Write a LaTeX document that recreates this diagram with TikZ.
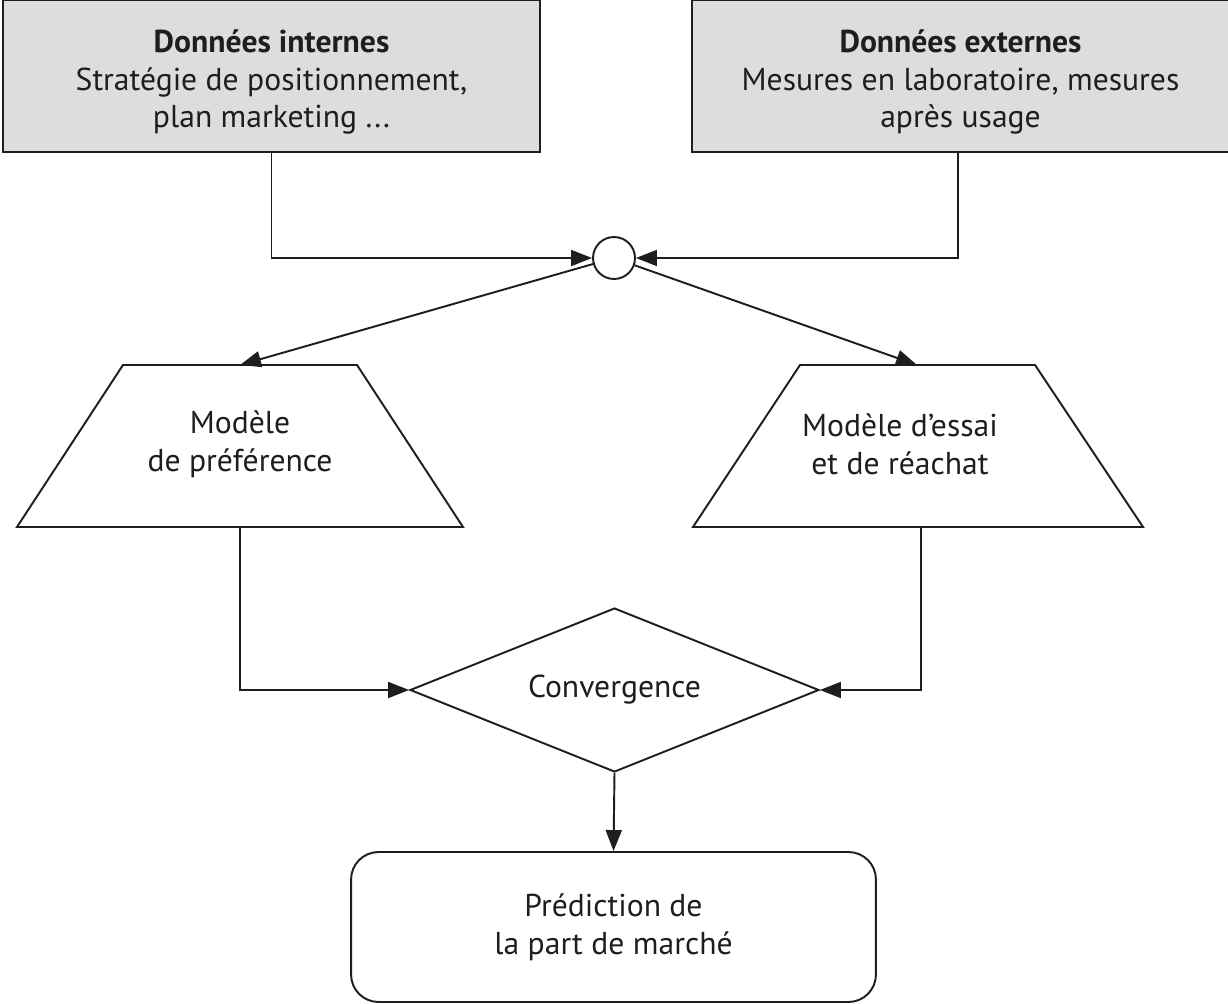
\documentclass[tikz,border=0pt]{standalone}
\usepackage{fontspec}
\setmainfont{PT Sans}
\usetikzlibrary{shapes.geometric,arrows.meta,calc}
\definecolor{boxgray}{HTML}{DDDDDF}
\definecolor{inkline}{HTML}{1E1E1E}
\begin{document}
\begin{tikzpicture}[x=0.02cm,y=-0.02cm,
  every node/.style={text=inkline,font=\fontsize{18}{21.5}\selectfont},
  databox/.style={draw=inkline,line width=1.4pt,fill=boxgray,minimum width=10.74cm,minimum height=3.04cm,inner sep=0pt},
  modelshape/.style={draw=inkline,line width=1.1pt,line join=miter},
  joinpt/.style={draw=inkline,line width=1.1pt,circle,minimum size=0.84cm,inner sep=0pt},
  decide/.style={draw=inkline,line width=1.1pt,diamond,aspect=2.5,minimum width=8.18cm,minimum height=3.28cm,inner sep=0pt},
  resultbox/.style={draw=inkline,line width=1.1pt,rounded corners=0.55cm,minimum width=10.5cm,minimum height=3.0cm,align=center,inner sep=0pt},
  flow/.style={draw=inkline,line width=1.1pt,-{Triangle[length=0.42cm,width=0.32cm]}}
]
\useasboundingbox (0,0) rectangle (1228,1004);

% source data boxes
\node[databox] (internes) at (271.5,76) {};
\node[align=center] (internes-txt) at (271.5,82) {\textbf{Données internes}\\Stratégie de positionnement,\\plan marketing ...};
\node[databox] (externes) at (960.5,76) {};
\node[align=center] (externes-txt) at (960.5,82) {\textbf{Données externes}\\Mesures en laboratoire, mesures\\après usage};

% junction
\node[joinpt] (jonction) at (614,258) {};

% model trapezoids (top edge, bottom edge) with their attachment points
\draw[modelshape] (123,365) -- (357,365) -- (463,527) -- (17,527) -- cycle;
\coordinate (mpref-n) at (240,365);
\coordinate (mpref-s) at (240,527);
\draw[modelshape] (800,365) -- (1035,365) -- (1143,527) -- (693,527) -- cycle;
\coordinate (messai-n) at (917,365);
\coordinate (messai-s) at (921,527);
\node[align=center] (tpref) at (240,444) {Modèle\\de préférence};
\node[align=center] (tessai) at (900,444) {Modèle d’essai\\et de réachat};

% convergence and result
\node[decide] (conv) at (614.5,690) {Convergence};
\node[resultbox] (pred) at (613.5,927) {Prédiction de\\la part de marché};

% connectors
\draw[flow] (internes.south) |- (jonction.west);
\draw[flow] (externes.south -| 958,0) |- (jonction.east);
\draw[flow] (jonction) -- (mpref-n);
\draw[flow] (jonction) -- (messai-n);
\draw[flow] (mpref-s) |- (conv.west);
\draw[flow] (messai-s) |- (conv.east);
\draw[flow] (conv.south) -- (pred.north);
\end{tikzpicture}
\end{document}
